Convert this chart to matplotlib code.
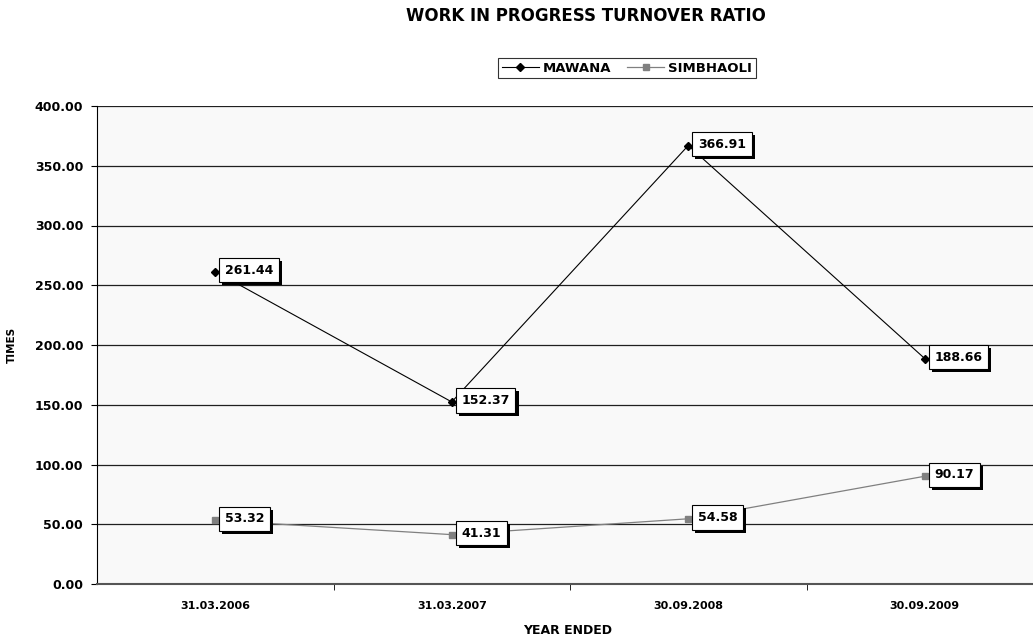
import matplotlib
matplotlib.use("Agg")
import matplotlib.pyplot as plt
import matplotlib.patheffects as pe
import numpy as np

years = ["31.03.2006", "31.03.2007", "30.09.2008", "30.09.2009"]
mawana = [261.44, 152.37, 366.91, 188.66]
simbhaoli = [53.32, 41.31, 54.58, 90.17]

FONT = "DejaVu Sans"

fig = plt.figure(figsize=(10.33, 6.41), dpi=100)
ax = fig.add_axes([97 / 1033, 1 - 584 / 641, (1043 - 97) / 1033, (584 - 106) / 641])
ax.set_facecolor("#f9f9f9")

x = np.arange(len(years))
ax.plot(x, mawana, color="black", lw=0.8, marker="D", ms=4, label="MAWANA", zorder=3)
ax.plot(x, simbhaoli, color="#808080", lw=0.9, marker="s", ms=5, label="SIMBHAOLI", zorder=3)

ax.set_xlim(-0.5, len(years) - 0.5)
ax.set_ylim(0, 400)
yt = np.arange(0, 401, 50)
ax.set_yticks(yt)
ax.set_yticklabels([f"{v:.2f}" for v in yt], fontsize=9, fontweight="bold", family=FONT)
ax.set_xticks(x)
ax.set_xticklabels(years, fontsize=8, fontweight="bold", family=FONT)
ax.set_xticks(np.arange(0.5, len(years) - 1, 1), minor=True)
ax.tick_params(axis="x", which="major", length=0, pad=12)
ax.tick_params(axis="x", which="minor", length=4, direction="out")
ax.tick_params(axis="y", length=4, direction="out", pad=6)

ax.grid(axis="y", color="#202020", lw=0.9)
ax.set_axisbelow(True)
for side in ["top", "right"]:
    ax.spines[side].set_visible(False)
ax.spines["left"].set_color("black")
ax.spines["bottom"].set_color("#555555")
ax.spines["bottom"].set_linewidth(1.5)

def label_points(values):
    for xi, v in zip(x, values):
        t = ax.annotate(f"{v:.2f}", (xi, v), xytext=(7, 1), textcoords="offset points",
                        ha="left", va="center", fontsize=9, fontweight="bold", family=FONT,
                        bbox=dict(boxstyle="square,pad=0.45", fc="white", ec="black", lw=0.8),
                        zorder=5)
        t.get_bbox_patch().set_path_effects(
            [pe.SimplePatchShadow(offset=(2.2, -2.2), shadow_rgbFace="black", alpha=1), pe.Normal()])

label_points(mawana)
label_points(simbhaoli)

fig.text(586 / 1033, 1 - 16 / 641, "WORK IN PROGRESS TURNOVER RATIO", ha="center", va="center",
         fontsize=12, fontweight="bold", family=FONT)
fig.text(12 / 1033, 1 - 345 / 641, "TIMES", rotation=90, ha="center", va="center",
         fontsize=7.5, fontweight="bold", family=FONT)
fig.text(568 / 1033, 1 - 631 / 641, "YEAR ENDED", ha="center", va="center",
         fontsize=9, fontweight="bold", family=FONT)

leg = fig.legend(loc="center", bbox_to_anchor=(627 / 1033, 1 - 68 / 641), ncol=2,
                 frameon=True, fancybox=False, edgecolor="black", handlelength=2.8,
                 handletextpad=0.3, columnspacing=1.2, borderpad=0.3,
                 prop={"family": FONT, "weight": "bold", "size": 9.5})
leg.get_frame().set_linewidth(0.8)

fig.savefig("out.png", dpi=100, facecolor="white")
